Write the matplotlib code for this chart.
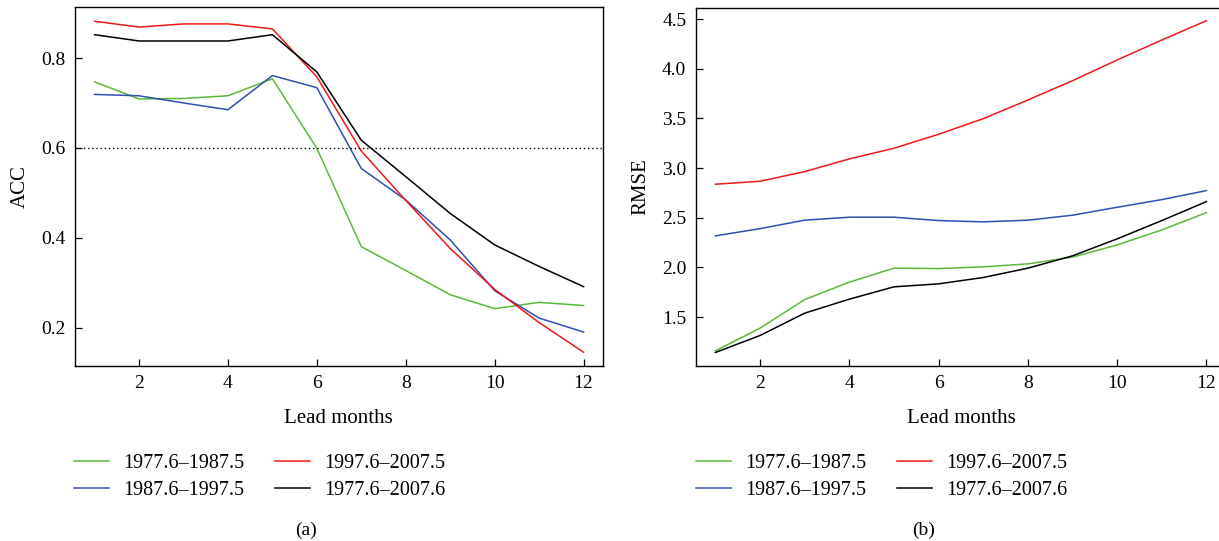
import matplotlib
matplotlib.use('Agg')
from matplotlib import pyplot as plt

# Lead months and period labels
months = list(range(1, 13))
periods = ['1977.6\u20131987.5', '1987.6\u20131997.5', '1997.6\u20132007.5', '1977.6\u20132007.6']
colours = ['#5cb83c', '#2f4fb0', '#f01818', '#000000']

# ACC per lead month, panel (a)
acc_7787 = [0.747, 0.709, 0.710, 0.716, 0.754, 0.599, 0.380, 0.327, 0.273, 0.242, 0.256, 0.249]
acc_8797 = [0.719, 0.716, 0.700, 0.685, 0.761, 0.734, 0.554, 0.484, 0.395, 0.282, 0.221, 0.190]
acc_9707 = [0.882, 0.869, 0.876, 0.876, 0.865, 0.758, 0.593, 0.483, 0.376, 0.285, 0.211, 0.145]
acc_7707 = [0.852, 0.838, 0.838, 0.838, 0.852, 0.769, 0.617, 0.536, 0.454, 0.384, 0.336, 0.291]

# RMSE per lead month, panel (b)
rmse_7787 = [1.160, 1.388, 1.676, 1.851, 1.992, 1.988, 2.005, 2.035, 2.103, 2.226, 2.377, 2.551]
rmse_8797 = [2.317, 2.390, 2.475, 2.505, 2.505, 2.471, 2.458, 2.475, 2.525, 2.605, 2.682, 2.773]
rmse_9707 = [2.837, 2.867, 2.964, 3.092, 3.199, 3.340, 3.497, 3.685, 3.879, 4.088, 4.289, 4.483]
rmse_7707 = [1.143, 1.314, 1.539, 1.680, 1.804, 1.834, 1.898, 1.992, 2.116, 2.287, 2.471, 2.662]

acc_threshold = 0.6

plt.rcParams['font.family'] = ['Liberation Serif', 'DejaVu Serif']
plt.rcParams['font.size'] = 14

W, H = 1219, 541

def style_axes(ax):
    ax.tick_params(direction='in', length=5, width=0.9, labelsize=14, pad=7,
                   top=False, right=False)
    for sp in ax.spines.values():
        sp.set_linewidth(1.0)
    ax.set_xticks([2, 4, 6, 8, 10, 12])
    ax.set_xlabel('Lead months', fontsize=15, labelpad=12)

def add_legend(fig, ax, x_px, y_px):
    handles = ax.get_lines()[:4]
    fig.legend(handles, periods, loc='upper left', ncol=2, frameon=False,
               bbox_to_anchor=(x_px / W, 1 - y_px / H), bbox_transform=fig.transFigure,
               borderpad=0, borderaxespad=0, handlelength=1.75, handletextpad=0.7,
               columnspacing=1.5, labelspacing=0.37, fontsize=14.5)

fig = plt.figure(figsize=(W / 100, H / 100), dpi=100)

ax1 = fig.add_axes([75 / W, 1 - 365.7 / H, 527.7 / W, 358.4 / H])
series_a = [acc_7787, acc_8797, acc_9707, acc_7707]
for vals, c in zip(series_a, colours):
    ax1.plot(months, vals, color=c, lw=1.1)
ax1.axhline(acc_threshold, color='black', ls=(0, (1, 2)), lw=1.0)
ax1.set_xlim(0.56, 12.43)
ax1.set_ylim(0.115, 0.913)
ax1.set_yticks([0.2, 0.4, 0.6, 0.8])
ax1.set_ylabel('ACC', fontsize=15, labelpad=8)
style_axes(ax1)

ax2 = fig.add_axes([696 / W, 1 - 365.7 / H, 531 / W, 357.4 / H])
series_b = [rmse_7787, rmse_8797, rmse_9707, rmse_7707]
for vals, c in zip(series_b, colours):
    ax2.plot(months, vals, color=c, lw=1.1)
ax2.set_xlim(0.565, 12.46)
ax2.set_ylim(1.01, 4.608)
ax2.set_yticks([1.5, 2.0, 2.5, 3.0, 3.5, 4.0, 4.5])
ax2.set_ylabel('RMSE', fontsize=15, labelpad=8)
style_axes(ax2)

add_legend(fig, ax1, 74, 454)
add_legend(fig, ax2, 696, 454)

fig.text(306 / W, 1 - 530 / H, '(a)', ha='center', va='center', fontsize=14)
fig.text(924 / W, 1 - 530 / H, '(b)', ha='center', va='center', fontsize=14)

fig.savefig('out.png', dpi=100)
